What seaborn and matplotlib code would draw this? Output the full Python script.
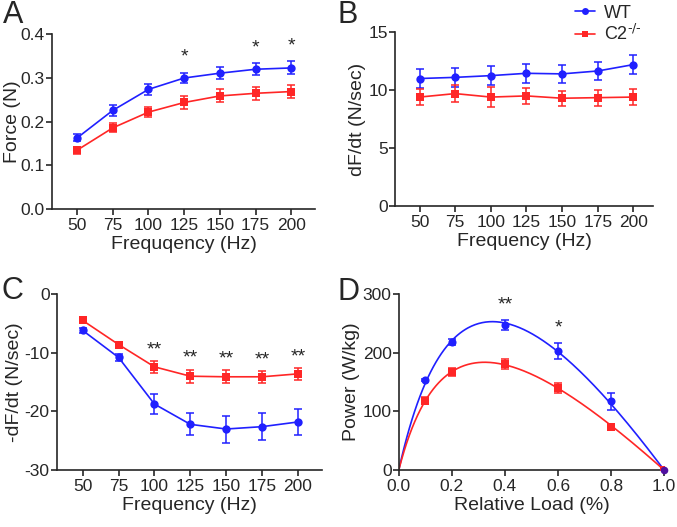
import numpy as np
import pandas as pd
import matplotlib
matplotlib.use("Agg")
import matplotlib.pyplot as plt
import seaborn as sns

# data
freq = [50, 75, 100, 125, 150, 175, 200]

force_wt = [0.163, 0.226, 0.274, 0.300, 0.311, 0.320, 0.323]
force_wt_err = [0.008, 0.012, 0.012, 0.012, 0.013, 0.014, 0.015]
force_ko = [0.135, 0.186, 0.222, 0.244, 0.259, 0.265, 0.269]
force_ko_err = [0.008, 0.010, 0.012, 0.015, 0.015, 0.015, 0.015]
force_stars = {125: "*", 175: "*", 200: "*"}

dfdt_wt = [11.0, 11.1, 11.25, 11.45, 11.4, 11.65, 12.2]
dfdt_wt_err = [0.78, 0.85, 0.85, 0.8, 0.75, 0.8, 0.83]
dfdt_ko = [9.4, 9.7, 9.4, 9.5, 9.3, 9.35, 9.4]
dfdt_ko_err = [0.7, 0.75, 0.85, 0.7, 0.65, 0.7, 0.7]

ndfdt_wt = [-6.2, -10.8, -18.75, -22.2, -23.0, -22.6, -21.8]
ndfdt_wt_err = [0.5, 0.6, 1.7, 1.9, 2.3, 2.3, 2.2]
ndfdt_ko = [-4.5, -8.6, -12.4, -14.0, -14.1, -14.1, -13.6]
ndfdt_ko_err = [0.3, 0.5, 1.0, 1.1, 1.1, 1.0, 1.0]
ndfdt_stars = {100: "**", 125: "**", 150: "**", 175: "**", 200: "**"}

load = [0.1, 0.2, 0.4, 0.6, 0.8, 1.0]
power_wt = [153, 218, 247, 203, 117, 0]
power_wt_err = [2, 5, 9, 14, 14, 2]
power_ko = [118, 167, 181, 140, 73, 0]
power_ko_err = [6, 7, 9, 8, 4, 2]
power_stars = {0.4: "**", 0.6: "*"}

BLUE = "#2020ff"
RED = "#ff2626"

sns.set_style("ticks")
plt.rcParams["font.family"] = ["Liberation Sans", "DejaVu Sans"]
plt.rcParams["axes.unicode_minus"] = False
plt.rcParams["axes.linewidth"] = 1.2
plt.rcParams["xtick.major.width"] = 1.2
plt.rcParams["ytick.major.width"] = 1.2
plt.rcParams["xtick.major.size"] = 4
plt.rcParams["ytick.major.size"] = 4
plt.rcParams["xtick.major.pad"] = 2.5
plt.rcParams["ytick.major.pad"] = 1.2
plt.rcParams["xtick.labelsize"] = 12.5
plt.rcParams["ytick.labelsize"] = 12.5
plt.rcParams["axes.labelpad"] = 2

fig = plt.figure(figsize=(6.77, 5.27), dpi=100)
axA = fig.add_axes([0.077, 0.603, 0.388, 0.332])
axB = fig.add_axes([0.584, 0.609, 0.381, 0.330])
axC = fig.add_axes([0.084, 0.108, 0.391, 0.334])
axD = fig.add_axes([0.589, 0.108, 0.392, 0.334])


def freq_panel(ax, wt, wt_err, ko, ko_err):
    df = pd.DataFrame({"x": freq * 2, "y": wt + ko,
                       "g": ["WT"] * len(freq) + ["KO"] * len(freq)})
    sns.lineplot(data=df, x="x", y="y", hue="g", style="g",
                 palette={"WT": BLUE, "KO": RED},
                 markers={"WT": "o", "KO": "s"}, dashes=False,
                 markersize=6, markeredgewidth=0, linewidth=1.2,
                 legend=False, ax=ax)
    ax.errorbar(freq, wt, yerr=wt_err, fmt="none", ecolor=BLUE,
                elinewidth=1.1, capsize=3, capthick=1.1)
    ax.errorbar(freq, ko, yerr=ko_err, fmt="none", ecolor=RED,
                elinewidth=1.1, capsize=3, capthick=1.1)
    ax.set_xticks(freq)
    ax.set_xlim(32.5, 216.5)
    sns.despine(ax=ax)


# A
freq_panel(axA, force_wt, force_wt_err, force_ko, force_ko_err)
axA.set_ylim(0, 0.4)
axA.set_yticks([0, 0.1, 0.2, 0.3, 0.4])
axA.set_yticklabels(["0.0", "0.1", "0.2", "0.3", "0.4"])
axA.set_xlabel("Frequqency (Hz)", fontsize=14)
axA.set_ylabel("Force (N)", fontsize=14, labelpad=0)
for f, s in force_stars.items():
    i = freq.index(f)
    axA.text(f, force_wt[i] + force_wt_err[i] + 0.016, s, ha="center",
             va="bottom", fontsize=14)

# B
freq_panel(axB, dfdt_wt, dfdt_wt_err, dfdt_ko, dfdt_ko_err)
axB.set_xlim(33, 214)
axB.set_ylim(0, 15)
axB.set_yticks([0, 5, 10, 15])
axB.set_xlabel("Frequency (Hz)", fontsize=14)
axB.set_ylabel("dF/dt (N/sec)", fontsize=14)

# C
freq_panel(axC, ndfdt_wt, ndfdt_wt_err, ndfdt_ko, ndfdt_ko_err)
axC.set_xlim(32, 216.5)
axC.set_ylim(-30, 0)
axC.set_yticks([0, -10, -20, -30])
axC.set_xlabel("Frequency (Hz)", fontsize=14)
axC.set_ylabel("-dF/dt (N/sec)", fontsize=14, labelpad=1)
for f, s in ndfdt_stars.items():
    i = freq.index(f)
    axC.text(f, ndfdt_ko[i] + ndfdt_ko_err[i] + 0.5, s, ha="center",
             va="bottom", fontsize=14)


# D: points plus Hill-type power fit P = c*x*(1-x)/(x+a)
def hill_fit(x, y):
    x = np.array([0.0] + list(x))
    y = np.array([0.0] + list(y), dtype=float)
    best = None
    for a in np.linspace(0.05, 1.5, 600):
        basis = x * (1 - x) / (x + a)
        c = (basis @ y) / (basis @ basis)
        sse = ((y - c * basis) ** 2).sum()
        if best is None or sse < best[0]:
            best = (sse, a, c)
    return best[1], best[2]


xs = np.linspace(0, 1, 300)
for vals, errs, col, mk in [(power_wt, power_wt_err, BLUE, "o"),
                            (power_ko, power_ko_err, RED, "s")]:
    a, c = hill_fit(load, vals)
    sns.lineplot(x=xs, y=c * xs * (1 - xs) / (xs + a), color=col,
                 linewidth=1.2, ax=axD)
    axD.errorbar(load, vals, yerr=errs, fmt="none", ecolor=col,
                 elinewidth=1.1, capsize=3, capthick=1.1)
    sns.scatterplot(x=load, y=vals, color=col, marker=mk, s=34,
                    linewidth=0, ax=axD, zorder=3)
axD.scatter([1.0], [0], color="#5010a0", s=30, zorder=4, linewidth=0,
            clip_on=False)
axD.set_xlim(0, 1.0)
axD.set_ylim(0, 300)
axD.set_xticks([0, 0.2, 0.4, 0.6, 0.8, 1.0])
axD.set_xticklabels(["0.0", "0.2", "0.4", "0.6", "0.8", "1.0"])
axD.set_yticks([0, 100, 200, 300])
axD.set_xlabel("Relative Load (%)", fontsize=14)
axD.set_ylabel("Power (W/kg)", fontsize=14)
sns.despine(ax=axD)
for xv, s in power_stars.items():
    i = load.index(xv)
    axD.text(xv, power_wt[i] + power_wt_err[i] + 11, s, ha="center",
             va="bottom", fontsize=14)

# legend
h_wt, = axB.plot([], [], color=BLUE, marker="o", markersize=5,
                 markeredgewidth=0, linewidth=1.2)
h_ko, = axB.plot([], [], color=RED, marker="s", markersize=5,
                 markeredgewidth=0, linewidth=1.2)
fig.legend([h_wt, h_ko], ["WT", "C2$^{\\text{-/-}}$"],
           loc="upper left", bbox_to_anchor=(0.826, 1.022), frameon=False,
           fontsize=13, handlelength=1.1, handletextpad=0.5,
           labelspacing=0.15)

# panel letters
for x, y, t in [(0.005, 1.0, "A"), (0.499, 1.0, "B"),
                (0.002, 0.476, "C"), (0.498, 0.474, "D")]:
    fig.text(x, y, t, fontsize=22, va="top", ha="left")

fig.savefig("out.png", dpi=100)
